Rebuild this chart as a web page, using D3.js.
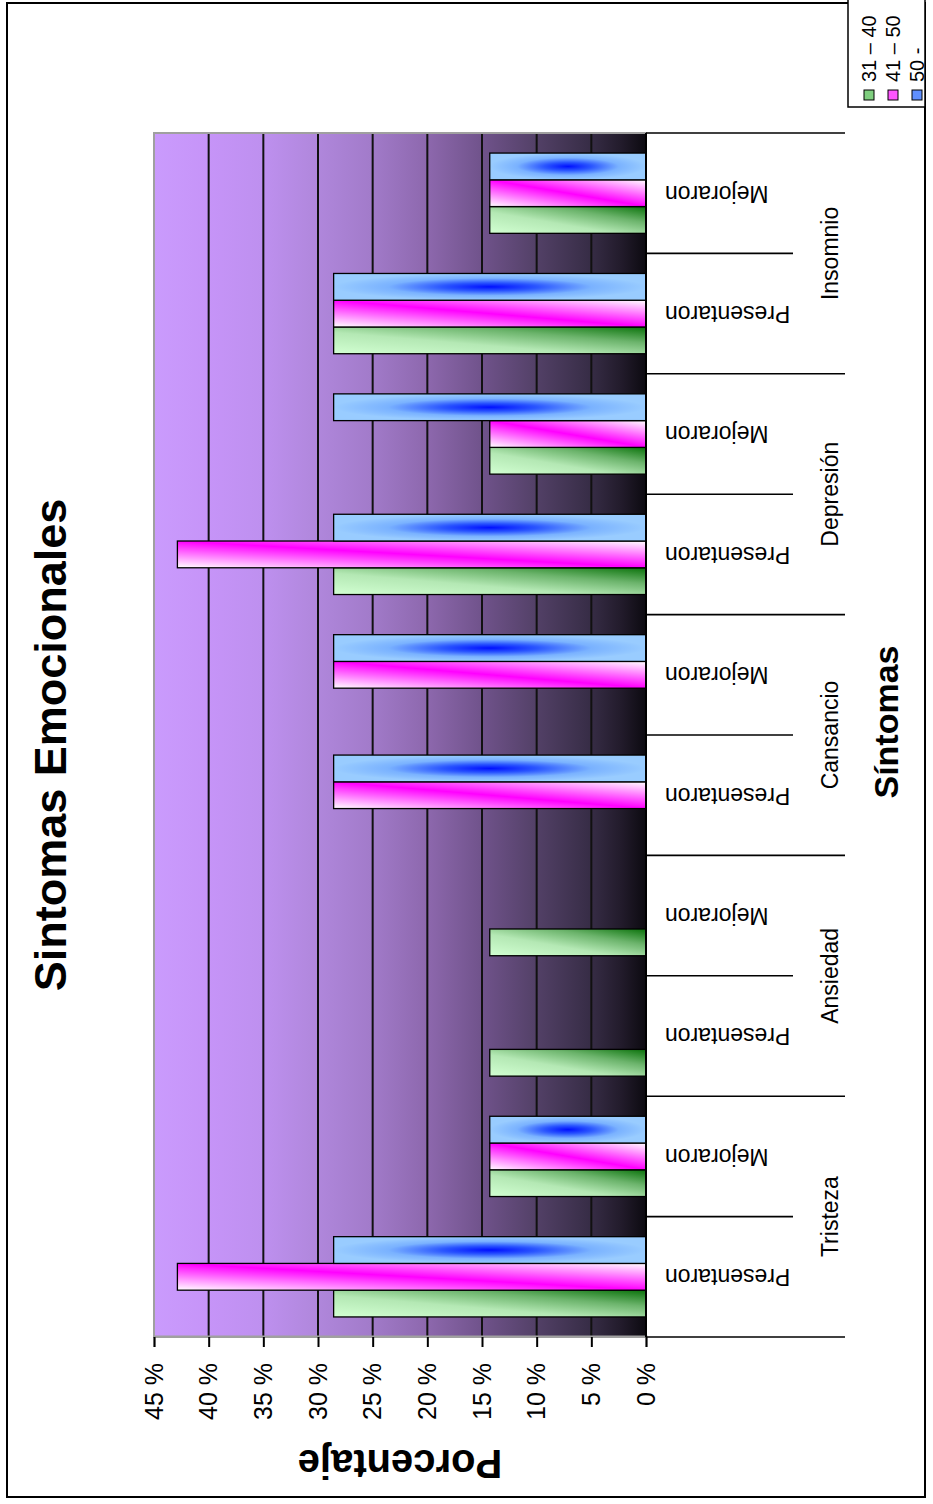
<!DOCTYPE html>
<html><head><meta charset="utf-8">
<script src="https://cdn.jsdelivr.net/npm/d3@7"></script>
<style>body{margin:0;background:#fff} svg{display:block}</style>
</head><body>
<svg id="c" width="933" height="1504"></svg>
<script>
// ---- data ----
const groups = ["Tristeza","Ansiedad","Cansancio","Depresión","Insomnio"];
const subLabels = ["Presentaron","Mejoraron"];
const seriesNames = ["31 – 40","41 – 50","50 -"];
const v3140 = [28.57,14.29, 14.29,14.29, 0,0, 28.57,14.29, 28.57,14.29];
const v4150 = [42.86,14.29, 0,0, 28.57,28.57, 42.86,14.29, 28.57,14.29];
const v50   = [28.57,14.29, 0,0, 28.57,28.57, 28.57,28.57, 28.57,14.29];
const valueTicks = [0,5,10,15,20,25,30,35,40,45];
const tickLabels = ["0 %","5 %","10 %","15 %","20 %","25 %","30 %","35 %","40 %","45 %"];
const titleText = "Sintomas Emocionales";
const xTitle = "Síntomas";
const yTitle = "Porcentaje";

// ---- build ----
const FONT = "'Liberation Sans', Arial, sans-serif";
const svg = d3.select("#c");
const defs = svg.append("defs");

// background gradient (top = 45%, bottom = 0%)
const bg = defs.append("linearGradient").attr("id","bg").attr("x1",0).attr("y1",0).attr("x2",0).attr("y2",1);
[[0,"#ca9bfd"],[0.11,"#c694f8"],[0.22,"#be90ef"],[0.33,"#b087dc"],[0.44,"#a27bca"],[0.56,"#8c67ac"],
 [0.67,"#6f528a"],[0.78,"#524066"],[0.89,"#362c45"],[0.95,"#221b2b"],[1,"#0c0a10"]]
 .forEach(s=>bg.append("stop").attr("offset",s[0]).attr("stop-color",s[1]));

const gGreen = defs.append("linearGradient").attr("id","gGreen").attr("x1",0).attr("y1",0).attr("x2",1).attr("y2",1);
[[0,"#d2ffd2"],[0.4,"#b4e8b4"],[0.7,"#6cb46c"],[1,"#0a720a"]].forEach(s=>gGreen.append("stop").attr("offset",s[0]).attr("stop-color",s[1]));
const gPink = defs.append("linearGradient").attr("id","gPink").attr("x1",0).attr("y1",0).attr("x2",1).attr("y2",1);
[[0,"#ffffff"],[0.5,"#ff00ff"],[1,"#ffffff"]].forEach(s=>gPink.append("stop").attr("offset",s[0]).attr("stop-color",s[1]));
const gBlue = defs.append("radialGradient").attr("id","gBlue").attr("cx",0.5).attr("cy",0.5).attr("r",0.5);
[[0,"#0010ff"],[0.3,"#2a55ff"],[0.65,"#7ab2ff"],[1,"#99ccff"]].forEach(s=>gBlue.append("stop").attr("offset",s[0]).attr("stop-color",s[1]));
const fills = ["url(#gGreen)","url(#gPink)","url(#gBlue)"];
const legendFills = ["#7fcf7f","#ff55ff","#5f8fff"];

// whole chart drawn in landscape and rotated
const root = svg.append("g").attr("transform","translate(0,1504) rotate(-90)");

// frame
root.append("rect").attr("x",7).attr("y",7).attr("width",1494).attr("height",918)
  .attr("fill","#fff").attr("stroke","#000").attr("stroke-width",2);

const plotL=167, plotR=1371, plotT=154, plotB=646;
const subIdx = d3.range(groups.length*subLabels.length);
const x0 = d3.scaleBand().domain(subIdx).range([plotL,plotR]).paddingInner(0).paddingOuter(0);
const x1 = d3.scaleBand().domain(d3.range(seriesNames.length)).range([0,x0.bandwidth()]).paddingInner(0).paddingOuter(0.75);
const y = d3.scaleLinear().domain([0,45]).range([plotB,plotT]);

// plot background
root.append("rect").attr("x",plotL).attr("y",plotT).attr("width",plotR-plotL).attr("height",plotB-plotT)
  .attr("fill","url(#bg)");
// gridlines
root.append("g").selectAll("line").data(valueTicks.filter(v=>v>0&&v<45)).join("line")
  .attr("x1",plotL).attr("x2",plotR).attr("y1",d=>y(d)).attr("y2",d=>y(d))
  .attr("stroke","#111").attr("stroke-width",2);
// plot border
root.append("rect").attr("x",plotL).attr("y",plotT).attr("width",plotR-plotL).attr("height",plotB-plotT)
  .attr("fill","none").attr("stroke","#a0a0a0").attr("stroke-width",2);

// bars
const seriesVals = [v3140, v4150, v50];
const barData = [];
subIdx.forEach(i=>seriesVals.forEach((arr,s)=>{ if(arr[i]>0) barData.push({i,s,v:arr[i]}); }));
root.append("g").selectAll("rect").data(barData).join("rect")
  .attr("x",d=>x0(d.i)+x1(d.s)).attr("width",x1.bandwidth())
  .attr("y",d=>y(d.v)).attr("height",d=>y(0)-y(d.v))
  .attr("fill",d=>fills[d.s]).attr("stroke","#000").attr("stroke-width",1.3);

// value axis
const yAxis = d3.axisLeft(y).tickValues(valueTicks).tickSize(10).tickPadding(16)
  .tickFormat((d,i)=>tickLabels[i]);
const ya = root.append("g").attr("transform",`translate(${plotL},0)`).call(yAxis);
ya.select(".domain").attr("stroke","#a0a0a0").attr("stroke-width",2);
ya.selectAll(".tick line").attr("stroke","#000").attr("stroke-width",2);
ya.selectAll(".tick text").attr("font-family",FONT).attr("font-size",25).attr("fill","#000");

// category axis line
root.append("line").attr("x1",plotL).attr("x2",plotR).attr("y1",plotB).attr("y2",plotB)
  .attr("stroke","#000").attr("stroke-width",2);

// category tick lines
const bounds = d3.range(groups.length+1).map(g=>g*2);
root.append("g").selectAll("line").data(bounds).join("line")
  .attr("x1",d=>d<subIdx.length? x0(d): plotR).attr("x2",d=>d<subIdx.length? x0(d): plotR)
  .attr("y1",plotB).attr("y2",845).attr("stroke","#000").attr("stroke-width",1.6);
root.append("g").selectAll("line").data(groups.map((g,i)=>i*2+1)).join("line")
  .attr("x1",d=>x0(d)).attr("x2",d=>x0(d)).attr("y1",plotB).attr("y2",793)
  .attr("stroke","#000").attr("stroke-width",1.6);

// sub-category labels
root.append("g").selectAll("text").data(subIdx).join("text")
  .attr("transform",d=>`translate(${x0(d)+x0.bandwidth()/2},665) rotate(-90)`)
  .attr("dy","0.33em").attr("text-anchor","end")
  .attr("font-family",FONT).attr("font-size",23).text(d=>subLabels[d%2]);
// group labels
root.append("g").selectAll("text").data(groups).join("text")
  .attr("x",(d,i)=>x0(i*2)+x0.bandwidth()).attr("y",838).attr("text-anchor","middle")
  .attr("font-family",FONT).attr("font-size",23).text(d=>d);

// titles
root.append("text").attr("x",759).attr("y",66).attr("text-anchor","middle")
  .attr("font-family",FONT).attr("font-weight","bold").attr("font-size",45).text(titleText);
root.append("text").attr("x",782).attr("y",898).attr("text-anchor","middle")
  .attr("font-family",FONT).attr("font-weight","bold").attr("font-size",34).text(xTitle);
root.append("text").attr("transform","translate(54,400) rotate(-90)").attr("text-anchor","middle")
  .attr("font-family",FONT).attr("font-weight","bold").attr("font-size",40).text(yTitle);

// legend
const lg = root.append("g");
lg.append("rect").attr("x",1397).attr("y",848).attr("width",112).attr("height",77)
  .attr("fill","#fff").attr("stroke","#000").attr("stroke-width",1.5);
const rows = lg.selectAll("g").data(seriesNames).join("g")
  .attr("transform",(d,i)=>`translate(0,${869+i*24})`);
rows.append("rect").attr("x",1404).attr("y",-5).attr("width",10).attr("height",10)
  .attr("fill",(d,i)=>legendFills[i]).attr("stroke","#000").attr("stroke-width",1);
rows.append("text").attr("x",1422).attr("dy","0.35em").attr("font-family",FONT).attr("font-size",20).text(d=>d);
</script>
</body></html>
